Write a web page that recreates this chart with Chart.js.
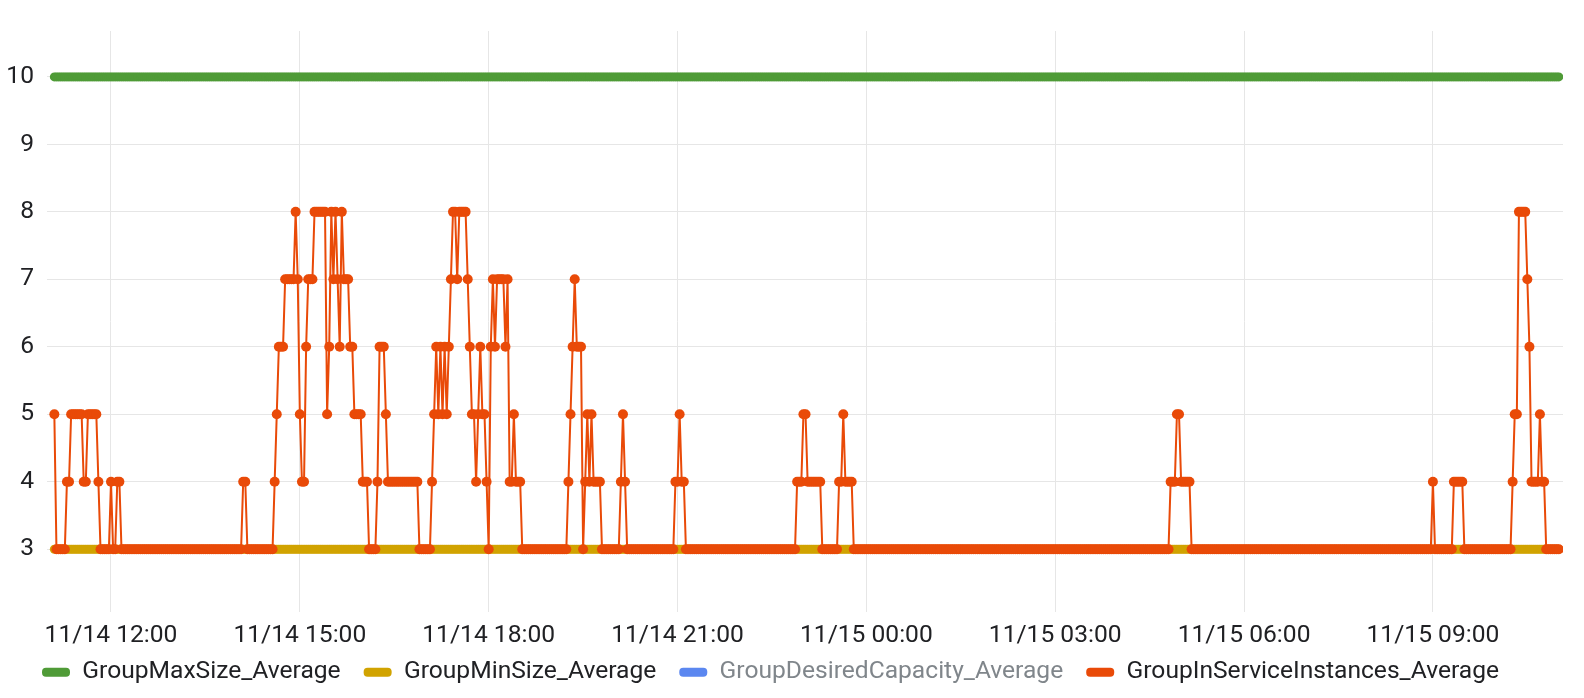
<!DOCTYPE html>
<html>
<head>
<meta charset="utf-8">
<title>Auto Scaling group metrics</title>
<script src="https://cdn.jsdelivr.net/npm/chart.js@4.4.1/dist/chart.umd.min.js"></script>
<style>
  html, body { margin: 0; padding: 0; background: #ffffff; }
</style>
</head>
<body>
<canvas id="asgChart" width="1584" height="698"></canvas>
<script>
// sample times are minutes after 11/14 00:00, one sample every 2 minutes
const startMinute = 666; // 11/14 11:06
const stepMinutes = 2;

const seriesNames = [
  "GroupMaxSize_Average",
  "GroupMinSize_Average",
  "GroupDesiredCapacity_Average",
  "GroupInServiceInstances_Average",
];
const seriesColors = ["#4f9b37", "#d1a300", "#5b87f0", "#e94a08"];

const groupMaxSize = 10;
const groupMinSize = 3;
// desired capacity is switched off in the legend, nothing of it is drawn
const desiredCapacity = [];

// one row per hour (30 samples)
const inServiceInstances = [
  5,3,3,3,3,3,4,4,5,5,5,5,5,5,4,4,5,5,5,5,5,4,3,3,3,3,3,4,3,3,
  4,4,3,3,3,3,3,3,3,3,3,3,3,3,3,3,3,3,3,3,3,3,3,3,3,3,3,3,3,3,
  3,3,3,3,3,3,3,3,3,3,3,3,3,3,3,3,3,3,3,3,3,3,3,3,3,3,3,3,3,3,
  4,4,3,3,3,3,3,3,3,3,3,3,3,3,3,4,5,6,6,6,7,7,7,7,7,8,7,5,4,4,
  6,7,7,7,8,8,8,8,8,8,5,6,8,7,8,7,6,8,7,7,7,6,6,5,5,5,5,4,4,4,
  3,3,3,3,4,6,6,6,5,4,4,4,4,4,4,4,4,4,4,4,4,4,4,4,3,3,3,3,3,3,
  4,5,6,5,6,5,6,5,6,7,8,8,7,8,8,8,8,7,6,5,5,4,5,6,5,5,4,3,6,7,
  6,7,7,7,7,6,7,4,4,5,4,4,4,3,3,3,3,3,3,3,3,3,3,3,3,3,3,3,3,3,
  3,3,3,3,3,4,5,6,7,6,6,6,3,4,5,4,5,4,4,4,4,3,3,3,3,3,3,3,3,3,
  4,5,4,3,3,3,3,3,3,3,3,3,3,3,3,3,3,3,3,3,3,3,3,3,3,3,4,4,5,4,
  4,3,3,3,3,3,3,3,3,3,3,3,3,3,3,3,3,3,3,3,3,3,3,3,3,3,3,3,3,3,
  3,3,3,3,3,3,3,3,3,3,3,3,3,3,3,3,3,3,3,3,3,3,3,3,4,4,4,5,5,4,
  4,4,4,4,4,4,3,3,3,3,3,3,3,3,4,4,5,4,4,4,4,3,3,3,3,3,3,3,3,3,
  3,3,3,3,3,3,3,3,3,3,3,3,3,3,3,3,3,3,3,3,3,3,3,3,3,3,3,3,3,3,
  3,3,3,3,3,3,3,3,3,3,3,3,3,3,3,3,3,3,3,3,3,3,3,3,3,3,3,3,3,3,
  3,3,3,3,3,3,3,3,3,3,3,3,3,3,3,3,3,3,3,3,3,3,3,3,3,3,3,3,3,3,
  3,3,3,3,3,3,3,3,3,3,3,3,3,3,3,3,3,3,3,3,3,3,3,3,3,3,3,3,3,3,
  3,3,3,3,3,3,3,3,3,3,3,3,3,3,3,3,3,3,3,3,3,3,4,4,4,5,5,4,4,4,
  4,4,3,3,3,3,3,3,3,3,3,3,3,3,3,3,3,3,3,3,3,3,3,3,3,3,3,3,3,3,
  3,3,3,3,3,3,3,3,3,3,3,3,3,3,3,3,3,3,3,3,3,3,3,3,3,3,3,3,3,3,
  3,3,3,3,3,3,3,3,3,3,3,3,3,3,3,3,3,3,3,3,3,3,3,3,3,3,3,3,3,3,
  3,3,3,3,3,3,3,3,3,3,3,3,3,3,3,3,3,3,3,3,3,3,3,3,3,3,3,4,3,3,
  3,3,3,3,3,3,3,4,4,4,4,4,3,3,3,3,3,3,3,3,3,3,3,3,3,3,3,3,3,3,
  3,3,3,3,3,4,5,5,8,8,8,8,7,6,4,4,4,4,5,4,4,3,3,3,3,3,3,3,
];

const yTicks = [3, 4, 5, 6, 7, 8, 9, 10];
const xTickMinutes = [720, 900, 1080, 1260, 1440, 1620, 1800, 1980];
const xTickLabels = [
  "11/14 12:00", "11/14 15:00", "11/14 18:00", "11/14 21:00",
  "11/15 00:00", "11/15 03:00", "11/15 06:00", "11/15 09:00",
];

const times = inServiceInstances.map((_, i) => startMinute + i * stepMinutes);

Chart.defaults.font.family = "Roboto";
Chart.defaults.font.size = 24.6;
Chart.defaults.color = "#202124";

function lineSet(index, data, order, radius) {
  return {
    label: seriesNames[index],
    data: data,
    borderColor: seriesColors[index],
    backgroundColor: seriesColors[index],
    pointBackgroundColor: seriesColors[index],
    borderWidth: 2,
    pointRadius: radius,
    pointBorderWidth: 0,
    pointHoverRadius: radius,
    tension: 0,
    order: order,
  };
}

const datasets = [
  lineSet(0, times.map(() => groupMaxSize), 3, 4.5),
  lineSet(1, times.map(() => groupMinSize), 2, 4.5),
  Object.assign(lineSet(2, desiredCapacity, 1, 4.5), { hidden: true }),
  lineSet(3, inServiceInstances, 0, 5),
];

// move the legend row: a little right of the canvas edge and up under the dates
const legendShift = {
  id: "legendShift",
  afterLayout(chart) {
    const legend = chart.legend;
    legend.left += 19;
    legend.right += 19;
    legend.top = 637;
    legend.bottom = 698;
    legend.height = legend.bottom - legend.top;
  },
};

new Chart(document.getElementById("asgChart"), {
  type: "line",
  data: { labels: times, datasets: datasets },
  plugins: [legendShift],
  options: {
    responsive: false,
    animation: false,
    events: [],
    layout: { padding: { left: 0, top: 31, right: 21, bottom: 0 } },
    scales: {
      x: {
        type: "linear",
        min: 659,
        max: 2104,
        afterFit: (scale) => { scale.height = 46; },
        afterBuildTicks: (scale) => {
          scale.ticks = xTickMinutes.map((v) => ({ value: v }));
        },
        ticks: {
          autoSkip: false,
          maxRotation: 0,
          minRotation: 0,
          padding: 9,
          callback: (value) => xTickLabels[xTickMinutes.indexOf(value)],
        },
        grid: { color: "#e6e6e6", drawTicks: false },
        border: { display: false },
      },
      y: {
        min: 2.07,
        max: 10.68,
        afterFit: (scale) => { scale.width = 47; },
        afterBuildTicks: (scale) => {
          scale.ticks = yTicks.map((v) => ({ value: v }));
        },
        ticks: { padding: 13, callback: (value) => String(value) },
        grid: { color: "#e6e6e6", drawTicks: false },
        border: { display: false },
      },
    },
    plugins: {
      tooltip: { enabled: false },
      legend: {
        position: "bottom",
        align: "start",
        maxHeight: 40,
        onClick: null,
        labels: {
          boxWidth: 28,
          boxHeight: 9,
          padding: 23,
          generateLabels: (chart) => {
            const items = Chart.defaults.plugins.legend.labels.generateLabels(chart);
            items.sort((a, b) => a.datasetIndex - b.datasetIndex);
            items.forEach((item) => {
              const visible = chart.isDatasetVisible(item.datasetIndex);
              item.fontColor = visible ? "#202124" : "#80868b";
              item.hidden = false;
              item.lineWidth = 0;
              item.fillStyle = seriesColors[item.datasetIndex];
              item.strokeStyle = seriesColors[item.datasetIndex];
              item.borderRadius = 4;
            });
            return items;
          },
        },
      },
    },
  },
});
</script>
</body>
</html>
